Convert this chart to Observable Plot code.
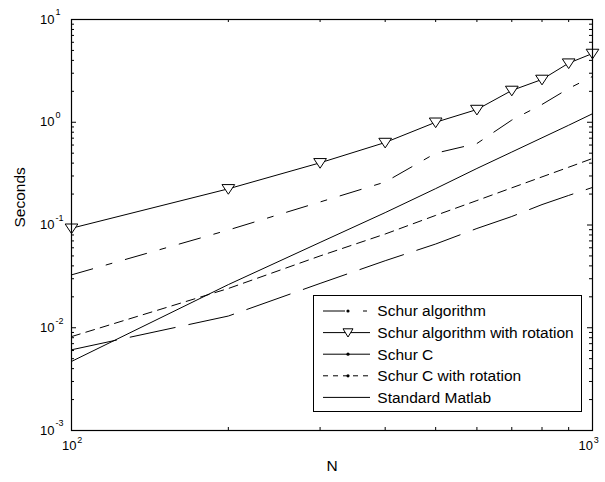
<!DOCTYPE html>
<html><head><meta charset="utf-8">
<script src="https://cdn.jsdelivr.net/npm/d3@7"></script>
<script src="https://cdn.jsdelivr.net/npm/@observablehq/plot@0.6"></script>
<style>
body{margin:0;background:#fff;}
#chart{position:relative;width:605px;height:482px;}
#chart svg{position:absolute;left:0;top:0;}
</style></head><body><div id="chart"></div>
<script>
// ---- data ----
const N = [100,200,300,400,500,600,700,800,900,1000];
const schurAlg    = [0.0327,0.0894,0.1675,0.262,0.50,0.621,1.05,1.49,2.13,2.79];
const schurAlgRot = [0.093,0.225,0.403,0.635,1.0,1.33,2.04,2.61,3.76,4.67];
const schurC      = [0.0061,0.0130,0.0270,0.0449,0.0653,0.0925,0.121,0.158,0.194,0.232];
const schurCRot   = [0.0082,0.0241,0.050,0.0817,0.124,0.173,0.230,0.294,0.365,0.444];
const matlab      = [0.0047,0.0263,0.0677,0.132,0.226,0.355,0.513,0.706,0.935,1.21];
const seriesNames = ["Schur algorithm","Schur algorithm with rotation","Schur C","Schur C with rotation","Standard Matlab"];
const yMajor = [1e-3,1e-2,1e-1,1,10];
const yExp = ["-3","-2","-1","0","1"];
const xMajor = [100,1000];
const xExp = ["2","3"];
const xTitle = "N";
const yTitle = "Seconds";

// ---- layout ----
const W = 605, H = 482, mL = 71, mR = 13, mT = 19, mB = 52;
const fw = W - mL - mR, fh = H - mT - mB;
const xMinor = d3.range(2,10).map(k=>k*100);
const yMinor = [1e-3,1e-2,1e-1,1].flatMap(d=>d3.range(2,10).map(k=>k*d));
const tbl = vals => N.map((n,i)=>({N:n, t:vals[i]}));
const triDown = {draw(ctx, size){const r=Math.sqrt(size/Math.PI);
  ctx.moveTo(-1.35*r,-0.9*r); ctx.lineTo(1.35*r,-0.9*r); ctx.lineTo(0,1.15*r); ctx.closePath();}};
const font = "'Liberation Sans', Arial, Helvetica, sans-serif";
const tk = {stroke:"black", strokeWidth:1};

const plot = Plot.plot({
  width:W, height:H, marginLeft:mL, marginRight:mR, marginTop:mT, marginBottom:mB,
  x:{type:"log", domain:[100,1000], axis:null},
  y:{type:"log", domain:[1e-3,10], axis:null},
  style:{fontFamily:font, background:"white", color:"black", overflow:"visible"},
  marks:[
    // inward ticks on all four sides
    Plot.tickX(xMajor, {x:d=>d, insetTop:fh-5, ...tk}),
    Plot.tickX(xMinor, {x:d=>d, insetTop:fh-3, ...tk}),
    Plot.tickX(xMajor, {x:d=>d, insetBottom:fh-5, ...tk}),
    Plot.tickX(xMinor, {x:d=>d, insetBottom:fh-3, ...tk}),
    Plot.tickY(yMajor, {y:d=>d, insetRight:fw-5, ...tk}),
    Plot.tickY(yMinor, {y:d=>d, insetRight:fw-3, ...tk}),
    Plot.tickY(yMajor, {y:d=>d, insetLeft:fw-5, ...tk}),
    Plot.tickY(yMinor, {y:d=>d, insetLeft:fw-3, ...tk}),
    // tick labels
    Plot.text(yMajor, {y:d=>d, frameAnchor:"left", dx:-17, textAnchor:"end", text:()=>"10", fontSize:13}),
    Plot.text(yMajor, {y:d=>d, frameAnchor:"left", dx:-16, dy:-7, textAnchor:"start", text:(d,i)=>yExp[i], fontSize:9}),
    Plot.text([xMajor[0]], {x:d=>d, frameAnchor:"bottom", dx:5, dy:19, textAnchor:"end", text:()=>"10", fontSize:13}),
    Plot.text([xMajor[0]], {x:d=>d, frameAnchor:"bottom", dx:5.7, dy:12.5, textAnchor:"start", text:()=>xExp[0], fontSize:9}),
    Plot.text([xMajor[1]], {x:d=>d, frameAnchor:"bottom", dx:0.5, dy:19, textAnchor:"end", text:()=>"10", fontSize:13}),
    Plot.text([xMajor[1]], {x:d=>d, frameAnchor:"bottom", dx:1.3, dy:12.5, textAnchor:"start", text:()=>xExp[1], fontSize:9}),
    // titles
    Plot.text([yTitle], {frameAnchor:"left", dx:-51, dy:2.5, rotate:-90, text:d=>d, fontSize:15.5}),
    Plot.text([xTitle], {frameAnchor:"bottom", dy:40, text:d=>d, fontSize:15.5}),
    // series
    Plot.line(tbl(schurAlg), {x:"N", y:"t", stroke:"black", strokeWidth:1, strokeDasharray:"22,14,6,14"}),
    Plot.line(tbl(schurAlgRot), {x:"N", y:"t", stroke:"black", strokeWidth:1}),
    Plot.dot(tbl(schurAlgRot), {x:"N", y:"t", symbol:triDown, r:4.7, fill:"white", stroke:"black", strokeWidth:1}),
    Plot.line(tbl(schurC), {x:"N", y:"t", stroke:"black", strokeWidth:1, strokeDasharray:"46,14"}),
    Plot.line(tbl(schurCRot), {x:"N", y:"t", stroke:"black", strokeWidth:1, strokeDasharray:"9,6"}),
    Plot.line(tbl(matlab), {x:"N", y:"t", stroke:"black", strokeWidth:1}),
    Plot.frame({stroke:"black", strokeWidth:1.2})
  ]
});
document.getElementById("chart").appendChild(plot);

// ---- legend (overlay) ----
const legendStyles = [
  {dash:"22,18,4,10", marker:"dot"},
  {dash:null, marker:"tri"},
  {dash:null, marker:"dot"},
  {dash:"5,5", marker:"dot"},
  {dash:null, marker:null}
];
const lg = d3.select("#chart").append("svg").attr("width",W).attr("height",H)
  .style("font-family", font);
lg.append("rect").attr("x",313.5).attr("y",295.5).attr("width",268).attr("height",116)
  .attr("fill","white").attr("stroke","black");
seriesNames.forEach((name,i)=>{
  const y = 311 + i*21.6;
  const st = legendStyles[i];
  const ln = lg.append("line").attr("x1",323).attr("x2",370).attr("y1",y).attr("y2",y)
    .attr("stroke","black").attr("stroke-width",1);
  if (st.dash) ln.attr("stroke-dasharray", st.dash);
  if (st.marker==="dot") lg.append("circle").attr("cx",348).attr("cy",y).attr("r",1.6).attr("fill","black");
  if (st.marker==="tri") lg.append("path").attr("d",`M${348-5},${y-3.8}L${348+5},${y-3.8}L348,${y+4.4}Z`)
    .attr("fill","white").attr("stroke","black");
  lg.append("text").attr("x",377.3).attr("y",y).attr("dy","0.35em").attr("font-size",15.5).text(name);
});
</script>
</body></html>
